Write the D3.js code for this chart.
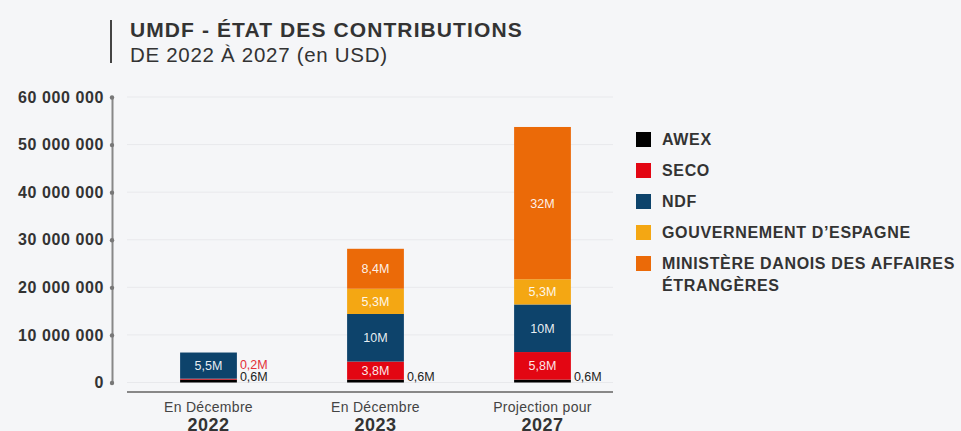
<!DOCTYPE html>
<html>
<head>
<meta charset="utf-8">
<script src="https://cdn.jsdelivr.net/npm/d3@7"></script>
<style>
  body { margin: 0; background: #f5f6f8; }
  svg { display: block; font-family: "Liberation Sans", Arial, sans-serif; }
</style>
</head>
<body>
<div id="chart"></div>
<script>
// --- données ---
const periodes = ["En Décembre", "En Décembre", "Projection pour"];
const annees = ["2022", "2023", "2027"];
const series = ["AWEX", "SECO", "NDF", "GOUVERNEMENT D’ESPAGNE", "MINISTÈRE DANOIS DES AFFAIRES ÉTRANGÈRES"];
const couleurs = ["#000000", "#e30613", "#0d436b", "#f4a713", "#eb6a08"];
// valeurs en millions USD, par série (dans l'ordre des années)
const awex   = [0.6, 0.6, 0.6];
const seco   = [0.2, 3.8, 5.8];
const ndf    = [5.5, 10, 10];
const espagne = [0, 5.3, 5.3];
const danois = [0, 8.4, 32];
const yTicks = [0, 10e6, 20e6, 30e6, 40e6, 50e6, 60e6];

const valeurs = [awex, seco, ndf, espagne, danois];
const table = annees.map((a, i) => {
  const row = { annee: a, periode: periodes[i] };
  series.forEach((s, j) => row[s] = valeurs[j][i] * 1e6);
  return row;
});

const W = 961, H = 431;
const svg = d3.select("#chart").append("svg").attr("width", W).attr("height", H);

// --- titre ---
svg.append("line").attr("x1", 111).attr("x2", 111).attr("y1", 20).attr("y2", 63)
  .attr("stroke", "#444").attr("stroke-width", 2);
svg.append("text").attr("x", 130).attr("y", 37).attr("font-size", 21).attr("font-weight", "bold")
  .attr("letter-spacing", 1.1).attr("fill", "#333").text("UMDF - ÉTAT DES CONTRIBUTIONS");
svg.append("text").attr("x", 130).attr("y", 62).attr("font-size", 20.5)
  .attr("letter-spacing", 0.7).attr("fill", "#333").text("DE 2022 À 2027 (en USD)");

// --- échelles ---
const x = d3.scaleBand().domain(annees).range([125, 626]).paddingInner(0.66).paddingOuter(0.33);
const y = d3.scaleLinear().domain([0, 60e6]).range([382.5, 97]);

// grille
svg.append("g").selectAll("line").data(yTicks).join("line")
  .attr("x1", 127).attr("x2", 613).attr("y1", d => y(d)).attr("y2", d => y(d))
  .attr("stroke", "#e8e9ec").attr("stroke-width", 1);

// axe Y
const yAxis = svg.append("g").attr("transform", "translate(112,0)")
  .call(d3.axisLeft(y).tickValues(yTicks).tickSize(0).tickPadding(8)
    .tickFormat(d => d3.format(",")(d).replace(/,/g, " ")));
yAxis.select(".domain").attr("stroke", "#888").attr("stroke-width", 2);
yAxis.selectAll("text").attr("font-size", 16).attr("font-weight", "bold").attr("fill", "#333")
  .attr("letter-spacing", 0.6).attr("font-family", "Liberation Sans, Arial, sans-serif");
yAxis.selectAll(".tick").append("circle").attr("r", 2.2).attr("fill", "#777");

// axe X
svg.append("line").attr("x1", 127).attr("x2", 613).attr("y1", 392).attr("y2", 392)
  .attr("stroke", "#888").attr("stroke-width", 2);
const xl = svg.append("g").selectAll("g").data(table).join("g")
  .attr("transform", d => `translate(${x(d.annee) + x.bandwidth() / 2},0)`);
xl.append("text").attr("y", 412).attr("text-anchor", "middle").attr("font-size", 14)
  .attr("letter-spacing", 0.3).attr("fill", "#444").text(d => d.periode);
xl.append("text").attr("y", 431).attr("text-anchor", "middle").attr("font-size", 18)
  .attr("letter-spacing", 0.5).attr("font-weight", "bold").attr("fill", "#333").text(d => d.annee);

// --- barres empilées ---
const stack = d3.stack().keys(series)(table);
const fmt = v => {
  const m = v / 1e6;
  return (m >= 10 ? d3.format(".0f")(m) : d3.format(".1f")(m)).replace(".", ",") + "M";
};

stack.forEach((layer, j) => {
  const g = svg.append("g");
  g.selectAll("rect").data(layer.filter(d => d[1] > d[0])).join("rect")
    .attr("x", d => x(d.data.annee)).attr("width", x.bandwidth())
    .attr("y", d => y(d[1])).attr("height", d => y(d[0]) - y(d[1]))
    .attr("fill", couleurs[j]);
  // étiquettes à l'intérieur
  g.selectAll("text").data(layer.filter(d => y(d[0]) - y(d[1]) >= 12)).join("text")
    .attr("x", d => x(d.data.annee) + x.bandwidth() / 2)
    .attr("y", d => (y(d[0]) + y(d[1])) / 2 + 4.5)
    .attr("text-anchor", "middle").attr("font-size", 12.5).attr("fill", "#fff")
    .attr("fill-opacity", 0.92)
    .text(d => fmt(d[1] - d[0]));
});

// étiquettes extérieures pour les petits segments
const petits = [];
stack.forEach((layer, j) => layer.forEach(d => {
  const h = y(d[0]) - y(d[1]);
  if (d[1] > d[0] && h < 12) petits.push({ d, j });
}));
petits.forEach(p => {
  const k = petits.filter(q => q.d.data.annee === p.d.data.annee && q.j < p.j).length;
  svg.append("text")
    .attr("x", x(p.d.data.annee) + x.bandwidth() + 3)
    .attr("y", y(0) - 2 - k * 11.5)
    .attr("font-size", 12.5)
    .attr("fill", p.j === 1 ? "#e3303a" : "#222")
    .text(fmt(p.d[1] - p.d[0]));
});

// --- légende ---
const legY = [139, 170, 201, 232, 263];
const leg = svg.append("g").selectAll("g").data(series).join("g")
  .attr("transform", (d, i) => `translate(636,${legY[i]})`);
leg.append("rect").attr("x", 0).attr("y", -7).attr("width", 15).attr("height", 15)
  .attr("fill", (d, i) => couleurs[i]);
leg.append("text").attr("x", 26).attr("y", 5.5).attr("font-size", 16).attr("font-weight", "bold")
  .attr("letter-spacing", 0.65).attr("fill", "#333")
  .each(function(d) {
    const t = d3.select(this);
    if (d.startsWith("MINISTÈRE")) {
      t.append("tspan").attr("x", 26).text("MINISTÈRE DANOIS DES AFFAIRES");
      t.append("tspan").attr("x", 26).attr("dy", 22).text("ÉTRANGÈRES");
    } else {
      t.text(d);
    }
  });
</script>
</body>
</html>
